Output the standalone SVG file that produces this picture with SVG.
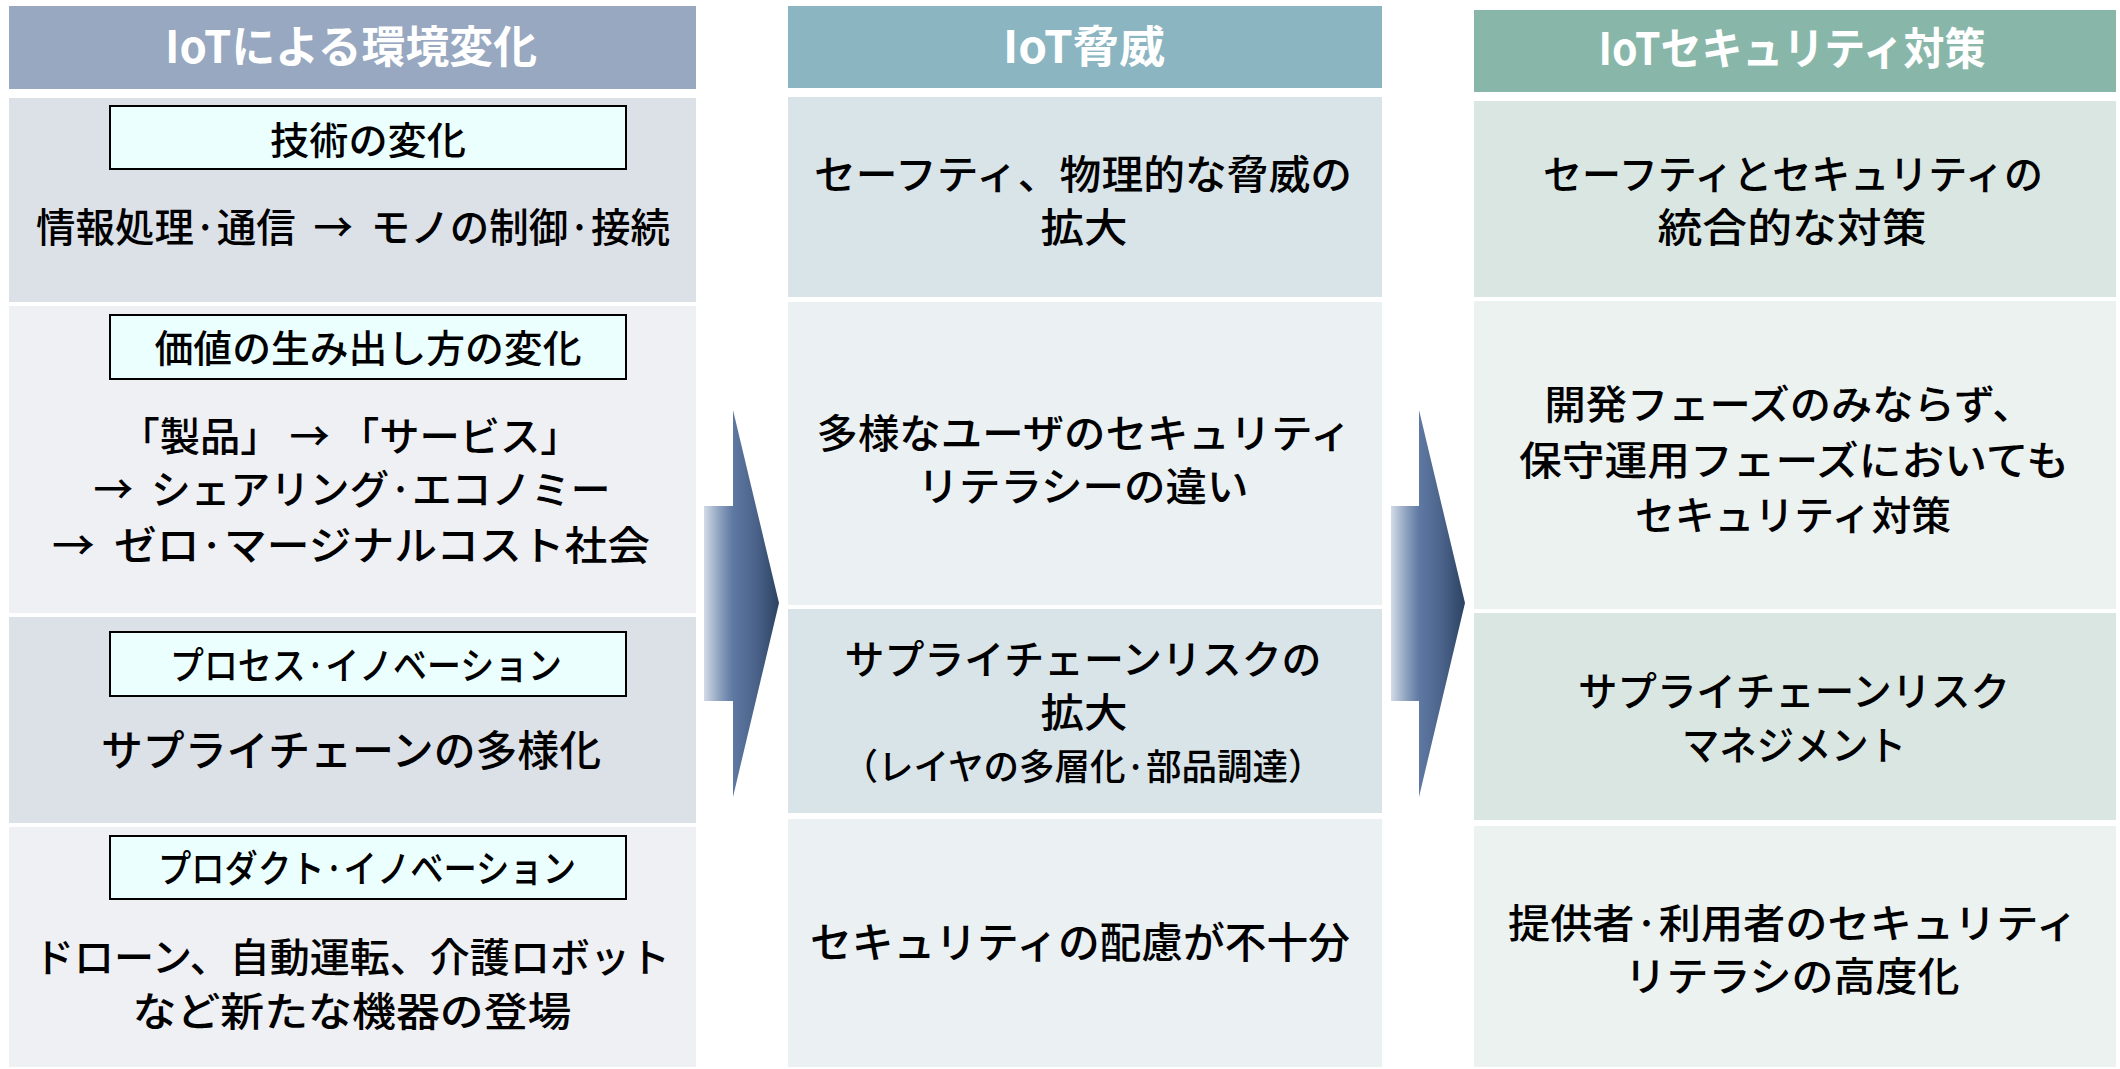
<svg xmlns="http://www.w3.org/2000/svg" width="2120" height="1069" viewBox="0 0 2120 1069">
<style>
text{font-family:"Noto Sans CJK JP","Noto Sans CJK SC",sans-serif;text-anchor:middle;fill:#000;font-weight:500}
.hd{font-size:44px;font-weight:bold;fill:#fff}
.lb{font-size:38px}
.t{font-size:40px}
.t42{font-size:42px}
.sm{font-size:36px}
.box{fill:#ebffff;stroke:#000;stroke-width:2}
.hL{fill:#97a8c0}.dL{fill:#dce1e8}.lL{fill:#eef0f4}
.hM{fill:#8ab5c1}.dM{fill:#d9e4e8}.lM{fill:#ebf1f3}
.hR{fill:#88b7a9}.dR{fill:#dae6e2}.lR{fill:#ebf2f0}
</style>
<defs>
<linearGradient id="g1" gradientUnits="userSpaceOnUse" x1="704" y1="0" x2="779" y2="0">
<stop offset="0" stop-color="#d2dbe7"/><stop offset="0.2" stop-color="#90a3bf"/><stop offset="0.38" stop-color="#5f79a3"/><stop offset="0.7" stop-color="#4a6289"/><stop offset="1" stop-color="#2b4262"/>
</linearGradient>
<linearGradient id="g2" gradientUnits="userSpaceOnUse" x1="1391" y1="0" x2="1465" y2="0">
<stop offset="0" stop-color="#d2dbe7"/><stop offset="0.2" stop-color="#90a3bf"/><stop offset="0.38" stop-color="#5f79a3"/><stop offset="0.7" stop-color="#4a6289"/><stop offset="1" stop-color="#2b4262"/>
</linearGradient>
</defs>
<rect width="2120" height="1069" fill="#fff"/>

<!-- Left column -->
<g id="left-header">
<rect class="hL" x="9" y="6" width="687" height="83"/>
<text class="hd" x="351" y="63" textLength="372" lengthAdjust="spacingAndGlyphs">IoTによる環境変化</text>
</g>
<g id="left-tech">
<rect class="dL" x="9" y="98" width="687" height="204"/>
<rect class="box" x="110" y="106" width="516" height="63"/>
<text class="lb" x="368" y="154" textLength="196" lengthAdjust="spacingAndGlyphs">技術の変化</text>
<text class="t" x="353" y="242" textLength="634" lengthAdjust="spacingAndGlyphs" xml:space="preserve">情報処理·通信  →  モノの制御·接続</text>
</g>
<g id="left-value">
<rect class="lL" x="9" y="306" width="687" height="307"/>
<rect class="box" x="110" y="315" width="516" height="64"/>
<text class="lb" x="368" y="362" textLength="427" lengthAdjust="spacingAndGlyphs">価値の生み出し方の変化</text>
<text class="t" x="350" y="451" textLength="461" lengthAdjust="spacingAndGlyphs" xml:space="preserve">「製品」 → 「サービス」</text>
<text class="t" x="352" y="504" textLength="517" lengthAdjust="spacingAndGlyphs" xml:space="preserve">→  シェアリング·エコノミー</text>
<text class="t" x="351" y="560" textLength="598" lengthAdjust="spacingAndGlyphs" xml:space="preserve">→  ゼロ·マージナルコスト社会</text>
</g>
<g id="left-process">
<rect class="dL" x="9" y="617" width="687" height="206"/>
<rect class="box" x="110" y="632" width="516" height="64"/>
<text class="lb" x="366" y="679" textLength="392" lengthAdjust="spacingAndGlyphs">プロセス·イノベーション</text>
<text class="t42" x="351" y="766" textLength="500" lengthAdjust="spacingAndGlyphs">サプライチェーンの多様化</text>
</g>
<g id="left-product">
<rect class="lL" x="9" y="827" width="687" height="240"/>
<rect class="box" x="110" y="836" width="516" height="63"/>
<text class="lb" x="367" y="882" textLength="418" lengthAdjust="spacingAndGlyphs">プロダクト·イノベーション</text>
<text class="t" x="352" y="972" textLength="636" lengthAdjust="spacingAndGlyphs">ドローン、自動運転、介護ロボット</text>
<text class="t" x="352" y="1026" textLength="439" lengthAdjust="spacingAndGlyphs">など新たな機器の登場</text>
</g>

<!-- Middle column -->
<g id="mid-header">
<rect class="hM" x="788" y="6" width="594" height="82"/>
<text class="hd" x="1084" y="63" textLength="162" lengthAdjust="spacingAndGlyphs">IoT脅威</text>
</g>
<g id="mid-safety">
<rect class="dM" x="788" y="97" width="594" height="200"/>
<text class="t" x="1083" y="189" textLength="538" lengthAdjust="spacingAndGlyphs">セーフティ、物理的な脅威の</text>
<text class="t" x="1084" y="242" textLength="87" lengthAdjust="spacingAndGlyphs">拡大</text>
</g>
<g id="mid-users">
<rect class="lM" x="788" y="302" width="594" height="303"/>
<text class="t" x="1084" y="448" textLength="535" lengthAdjust="spacingAndGlyphs">多様なユーザのセキュリティ</text>
<text class="t" x="1083" y="501" textLength="331" lengthAdjust="spacingAndGlyphs">リテラシーの違い</text>
</g>
<g id="mid-supply">
<rect class="dM" x="788" y="609" width="594" height="204"/>
<text class="t" x="1083" y="674" textLength="477" lengthAdjust="spacingAndGlyphs">サプライチェーンリスクの</text>
<text class="t" x="1084" y="727" textLength="87" lengthAdjust="spacingAndGlyphs">拡大</text>
<text class="sm" x="1083" y="780" textLength="481" lengthAdjust="spacingAndGlyphs">（レイヤの多層化·部品調達）</text>
</g>
<g id="mid-lack">
<rect class="lM" x="788" y="819" width="594" height="248"/>
<text class="t42" x="1080" y="958" textLength="540" lengthAdjust="spacingAndGlyphs">セキュリティの配慮が不十分</text>
</g>

<!-- Right column -->
<g id="right-header">
<rect class="hR" x="1474" y="10" width="642" height="82"/>
<text class="hd" x="1792" y="65" textLength="387" lengthAdjust="spacingAndGlyphs">IoTセキュリティ対策</text>
</g>
<g id="right-integrated">
<rect class="dR" x="1474" y="101" width="642" height="196"/>
<text class="t" x="1793" y="189" textLength="500" lengthAdjust="spacingAndGlyphs">セーフティとセキュリティの</text>
<text class="t" x="1792" y="242" textLength="269" lengthAdjust="spacingAndGlyphs">統合的な対策</text>
</g>
<g id="right-maintenance">
<rect class="lR" x="1474" y="301" width="642" height="308"/>
<text class="t" x="1789" y="419" textLength="489" lengthAdjust="spacingAndGlyphs">開発フェーズのみならず、</text>
<text class="t" x="1794" y="475" textLength="550" lengthAdjust="spacingAndGlyphs">保守運用フェーズにおいても</text>
<text class="t" x="1793" y="530" textLength="316" lengthAdjust="spacingAndGlyphs">セキュリティ対策</text>
</g>
<g id="right-supply">
<rect class="dR" x="1474" y="613" width="642" height="207"/>
<text class="t" x="1794" y="706" textLength="432" lengthAdjust="spacingAndGlyphs">サプライチェーンリスク</text>
<text class="t" x="1794" y="760" textLength="224" lengthAdjust="spacingAndGlyphs">マネジメント</text>
</g>
<g id="right-literacy">
<rect class="lR" x="1474" y="826" width="642" height="241"/>
<text class="t" x="1793" y="938" textLength="570" lengthAdjust="spacingAndGlyphs">提供者·利用者のセキュリティ</text>
<text class="t" x="1792" y="991" textLength="335" lengthAdjust="spacingAndGlyphs">リテラシの高度化</text>
</g>

<!-- Connectors -->
<g id="connectors">
<path d="M704,506 H733 V410 L779,603 L733,797 V701 H704 Z" fill="url(#g1)"/>
<path d="M1391,506 H1419 V410 L1465,603 L1419,797 V701 H1391 Z" fill="url(#g2)"/>
</g>
</svg>
